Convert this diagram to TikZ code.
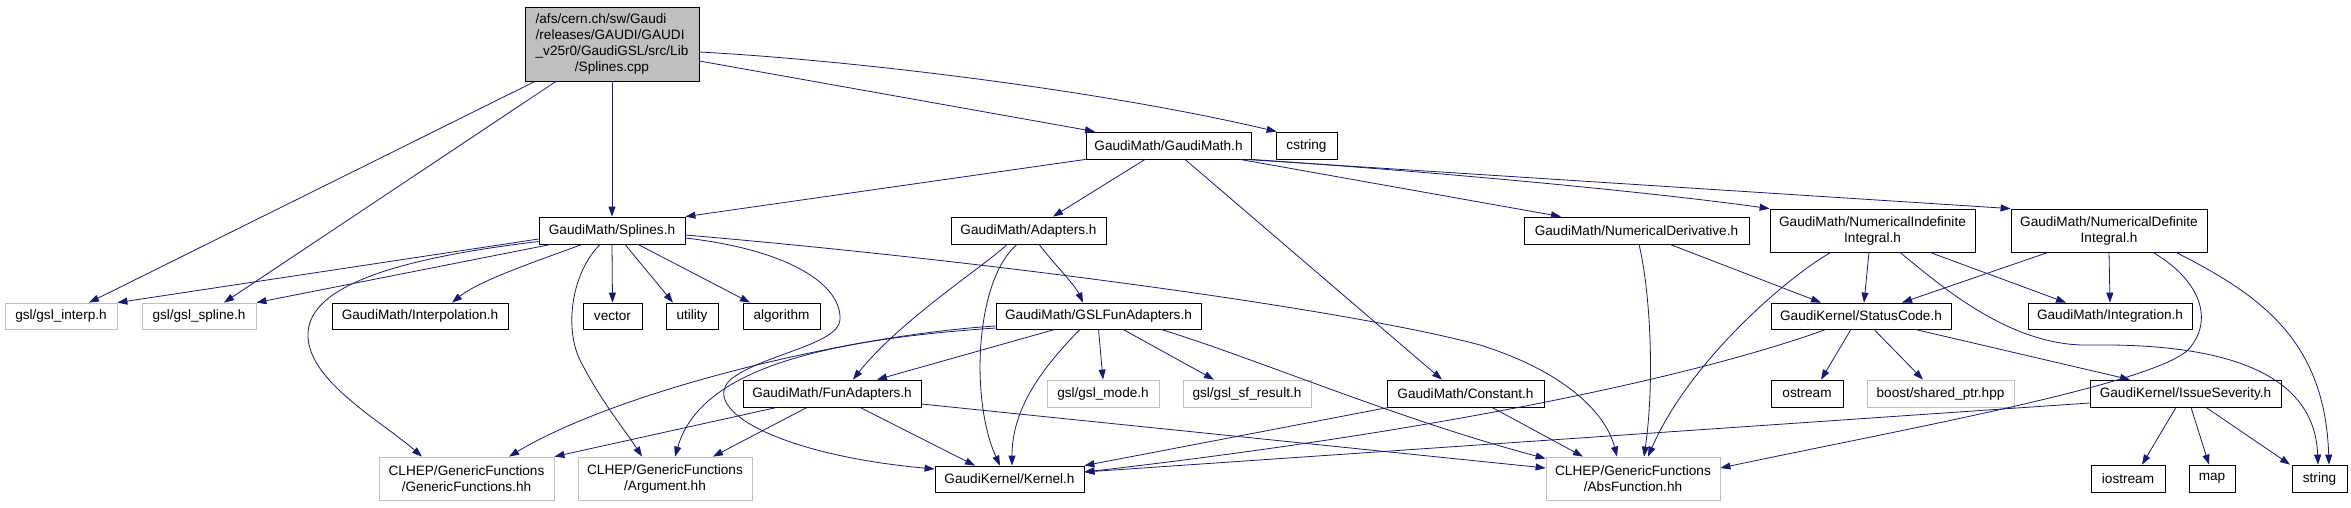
\documentclass[tikz,border=0pt]{standalone}
\usepackage{fontspec}
\setmainfont{Liberation Sans}
\usetikzlibrary{arrows.meta}
\definecolor{edgeblue}{HTML}{191970}
\definecolor{graybox}{HTML}{BFBFBF}
\begin{document}
\begin{tikzpicture}[x=1pt,y=-1pt,
  box/.style={draw=black, line width=0.8pt, inner sep=0pt, minimum height=27pt, align=center, font=\fontsize{13.6}{16}\selectfont},
  gbox/.style={box, draw=graybox},
  cppbox/.style={box, fill=graybox},
  edge/.style={draw=edgeblue, line width=0.8pt, -{Triangle[length=10pt,width=7pt]}}]
\useasboundingbox (0,0) rectangle (2351,507);
% nodes
\node[cppbox, minimum width=174pt, minimum height=74pt] (cpp) at (612,44) {\begin{tabular}{@{}l@{}}/afs/cern.ch/sw/Gaudi\\/releases/GAUDI/GAUDI\\\_v25r0/GaudiGSL/src/Lib\\\multicolumn{1}{@{}c@{}}{/Splines.cpp}\end{tabular}};
\node[box, minimum width=146pt] (splinesh) at (612,230.5) {GaudiMath/Splines.h};
\node[box, minimum width=165pt] (gaudimath) at (1168.5,145.5) {GaudiMath/GaudiMath.h};
\node[box, minimum width=61pt] (cstring) at (1306.5,145.5) {cstring};
\node[box, minimum width=155pt] (adapters) at (1028.5,230.5) {GaudiMath/Adapters.h};
\node[box, minimum width=225pt] (numderiv) at (1636.5,230.5) {GaudiMath/NumericalDerivative.h};
\node[box, minimum width=205pt, minimum height=43pt] (numindef) at (1872.5,230.5) {GaudiMath/NumericalIndefinite\\Integral.h};
\node[box, minimum width=196pt, minimum height=43pt] (numdef) at (2109,230.5) {GaudiMath/NumericalDefinite\\Integral.h};
\node[gbox, minimum width=112pt, minimum height=26pt] (interp) at (61,316) {gsl/gsl\_interp.h};
\node[gbox, minimum width=114pt, minimum height=26pt] (spline) at (199,316) {gsl/gsl\_spline.h};
\node[box, minimum width=176pt, minimum height=26pt] (interpolation) at (420,316) {GaudiMath/Interpolation.h};
\node[box, minimum width=59pt, minimum height=26pt] (vector) at (612.5,316) {vector};
\node[box, minimum width=52pt, minimum height=26pt] (utility) at (692,316) {utility};
\node[box, minimum width=77pt, minimum height=26pt] (algorithm) at (781.5,316) {algorithm};
\node[box, minimum width=205pt, minimum height=26pt] (gslfun) at (1098.5,316) {GaudiMath/GSLFunAdapters.h};
\node[box, minimum width=180pt, minimum height=26pt] (statuscode) at (1861,316) {GaudiKernel/StatusCode.h};
\node[box, minimum width=164pt, minimum height=26pt] (integration) at (2110,316) {GaudiMath/Integration.h};
\node[box, minimum width=178pt] (funadapters) at (832,393.5) {GaudiMath/FunAdapters.h};
\node[gbox, minimum width=112pt] (gslmode) at (1103,393.5) {gsl/gsl\_mode.h};
\node[gbox, minimum width=128pt] (gslsf) at (1247,393.5) {gsl/gsl\_sf\_result.h};
\node[box, minimum width=157pt] (constant) at (1465.5,393.5) {GaudiMath/Constant.h};
\node[box, minimum width=72pt] (ostream) at (1807,393.5) {ostream};
\node[gbox, minimum width=147pt] (boost) at (1940.5,393.5) {boost/shared\_ptr.hpp};
\node[box, minimum width=191pt] (issue) at (2185.5,393.5) {GaudiKernel/IssueSeverity.h};
\node[gbox, minimum width=175pt, minimum height=43pt] (genfun) at (466.5,478.5) {CLHEP/GenericFunctions\\/GenericFunctions.hh};
\node[gbox, minimum width=174pt, minimum height=43pt] (argument) at (665,478.5) {CLHEP/GenericFunctions\\/Argument.hh};
\node[box, minimum width=149pt, minimum height=26pt] (kernel) at (1009.5,479) {GaudiKernel/Kernel.h};
\node[gbox, minimum width=174pt, minimum height=43pt] (absfun) at (1633,478.5) {CLHEP/GenericFunctions\\/AbsFunction.hh};
\node[box, minimum width=74pt] (iostream) at (2128,478.5) {iostream};
\node[box, minimum width=46pt] (map) at (2212,478.5) {map};
\node[box, minimum width=55pt] (string) at (2319.5,478.5) {string};
% edges from Splines.cpp
\draw[edge] (cpp.south) -- (splinesh.north);
\draw[edge] ([xshift=-77pt]cpp.south) -- ([xshift=28pt]interp.north);
\draw[edge] ([xshift=-56pt]cpp.south) -- ([xshift=25pt]spline.north);
\draw[edge] ([yshift=-17pt]cpp.east) -- ([xshift=-73.5pt]gaudimath.north);
\draw[edge] ([yshift=-8pt]cpp.east) .. controls (850,60) and (1100,90) .. ([xshift=1pt]cstring.north west);
% GaudiMath.h
\draw[edge] (gaudimath.south west) -- (splinesh.north east);
\draw[edge] ([xshift=-23.5pt]gaudimath.south) -- ([xshift=24.5pt]adapters.north);
\draw[edge] ([xshift=16.5pt]gaudimath.south) -- ([xshift=-23.5pt]constant.north);
\draw[edge] ([xshift=71.5pt]gaudimath.south) -- ([xshift=-75.5pt]numderiv.north);
\draw[edge] (gaudimath.south east) .. controls (1450,173) and (1650,192) .. (numindef.north west);
\draw[edge] ([xshift=76.5pt]gaudimath.south) -- (numdef.north west);
% Splines.h
\draw[edge] ([yshift=-8.5pt]splinesh.west) -- (interp.north east);
\draw[edge] ([xshift=-61pt]splinesh.south) -- (spline.north east);
\draw[edge] ([yshift=-11pt]splinesh.west) .. controls (400,258) and (310,285) .. (308,333) .. controls (306,380) and (380,420) .. ([xshift=-44.5pt]genfun.north);
\draw[edge] ([xshift=-30pt]splinesh.south) .. controls (540,260) and (480,280) .. ([xshift=32pt]interpolation.north);
\draw[edge] ([xshift=-12pt]splinesh.south) .. controls (570,275) and (565,330) .. (580,360) .. controls (600,400) and (625,430) .. ([xshift=-23pt]argument.north);
\draw[edge] (splinesh.south) -- (vector.north);
\draw[edge] ([xshift=13pt]splinesh.south) -- ([xshift=-19pt]utility.north);
\draw[edge] ([xshift=26pt]splinesh.south) -- ([xshift=-31.5pt]algorithm.north);
\draw[edge] ([yshift=-4.5pt]splinesh.east) .. controls (1000,262) and (1350,310) .. (1480,345) .. controls (1560,370) and (1605,410) .. ([xshift=-16pt]absfun.north);
\draw[edge] ([yshift=-7.5pt]splinesh.east) .. controls (790,250) and (842,285) .. (840,320) .. controls (838,345) and (760,355) .. (730,380) .. controls (700,410) and (780,455) .. ([yshift=10pt]kernel.west);
% Adapters.h
\draw[edge] ([xshift=-21.5pt]adapters.south) .. controls (990,262) and (900,320) .. ([xshift=21pt]funadapters.north);
\draw[edge] ([xshift=-11.5pt]adapters.south) .. controls (975,280) and (970,400) .. ([xshift=-9.5pt]kernel.north);
\draw[edge] ([xshift=10.5pt]adapters.south) .. controls (1055,265) and (1075,285) .. ([xshift=-15.5pt]gslfun.north);
% GSLFunAdapters.h
\draw[edge] ([xshift=-43.5pt]gslfun.south) -- ([xshift=45pt]funadapters.north);
\draw[edge] ([yshift=-10pt]gslfun.west) .. controls (850,335) and (620,390) .. ([xshift=42.5pt]genfun.north);
\draw[edge] ([yshift=-12pt]gslfun.west) .. controls (820,340) and (700,370) .. ([xshift=10pt]argument.north);
\draw[edge] ([xshift=-18.5pt]gslfun.south) .. controls (1040,370) and (1012,410) .. ([xshift=2.5pt]kernel.north);
\draw[edge] (gslfun.south) -- (gslmode.north);
\draw[edge] ([xshift=24.5pt]gslfun.south) -- ([xshift=-33pt]gslsf.north);
\draw[edge] ([xshift=62.5pt]gslfun.south) .. controls (1260,360) and (1400,420) .. ([yshift=20pt]absfun.west);
% FunAdapters.h
\draw[edge] ([xshift=-55pt]funadapters.south) -- (genfun.north east);
\draw[edge] ([xshift=-25pt]funadapters.south) -- ([xshift=48pt]argument.north);
\draw[edge] ([xshift=28pt]funadapters.south) -- ([xshift=-34.5pt]kernel.north);
\draw[edge] ([yshift=-10.5pt]funadapters.east) -- ([yshift=10.5pt]absfun.west);
% Constant.h
\draw[edge] ([xshift=2pt]constant.south west) -- (kernel.north east);
\draw[edge] ([xshift=26.5pt]constant.south) -- ([xshift=-50pt]absfun.north);
% NumericalDerivative.h
\draw[edge] ([xshift=2.5pt]numderiv.south) .. controls (1650,290) and (1655,380) .. ([xshift=11pt]absfun.north);
\draw[edge] ([xshift=33.5pt]numderiv.south) -- ([xshift=-40pt]statuscode.north);
% NumericalIndefiniteIntegral.h
\draw[edge] ([xshift=-3.5pt]numindef.south) -- ([xshift=3pt]statuscode.north);
\draw[edge] ([xshift=-41.5pt]numindef.south) .. controls (1790,275) and (1690,360) .. ([xshift=15pt]absfun.north);
\draw[edge] ([xshift=57.5pt]numindef.south) -- ([xshift=-44pt]integration.north);
\draw[edge] ([xshift=27.5pt]numindef.south) .. controls (1940,285) and (2010,347) .. (2090,345) .. controls (2240,343) and (2315,380) .. ([xshift=-1.5pt]string.north);
% NumericalDefiniteIntegral.h
\draw[edge] ([xshift=-61pt]numdef.south) -- ([xshift=41pt]statuscode.north);
\draw[edge] (numdef.south) -- (integration.north);
\draw[edge] ([xshift=44pt]numdef.south) .. controls (2200,280) and (2215,320) .. (2188,350) .. controls (2150,385) and (1900,430) .. ([yshift=10.5pt]absfun.east);
\draw[edge] ([xshift=67pt]numdef.south) .. controls (2260,295) and (2325,340) .. ([xshift=9.5pt]string.north);
% StatusCode.h
\draw[edge] ([xshift=-10pt]statuscode.south) -- ([xshift=14pt]ostream.north);
\draw[edge] ([xshift=13pt]statuscode.south) -- ([xshift=-17.5pt]boost.north);
\draw[edge] ([xshift=54pt]statuscode.south) -- ([xshift=-55.5pt]issue.north);
\draw[edge] ([xshift=-35pt]statuscode.south) .. controls (1700,375) and (1450,430) .. ([yshift=7pt]kernel.east);
% IssueSeverity.h
\draw[edge] ([yshift=-9.5pt]issue.west) -- ([yshift=7pt]kernel.east);
\draw[edge] ([xshift=-9.5pt]issue.south) -- ([xshift=14pt]iostream.north);
\draw[edge] ([xshift=5.5pt]issue.south) -- ([xshift=-3pt]map.north);
\draw[edge] ([xshift=20.5pt]issue.south) -- ([xshift=-29.5pt]string.north);
\end{tikzpicture}
\end{document}
